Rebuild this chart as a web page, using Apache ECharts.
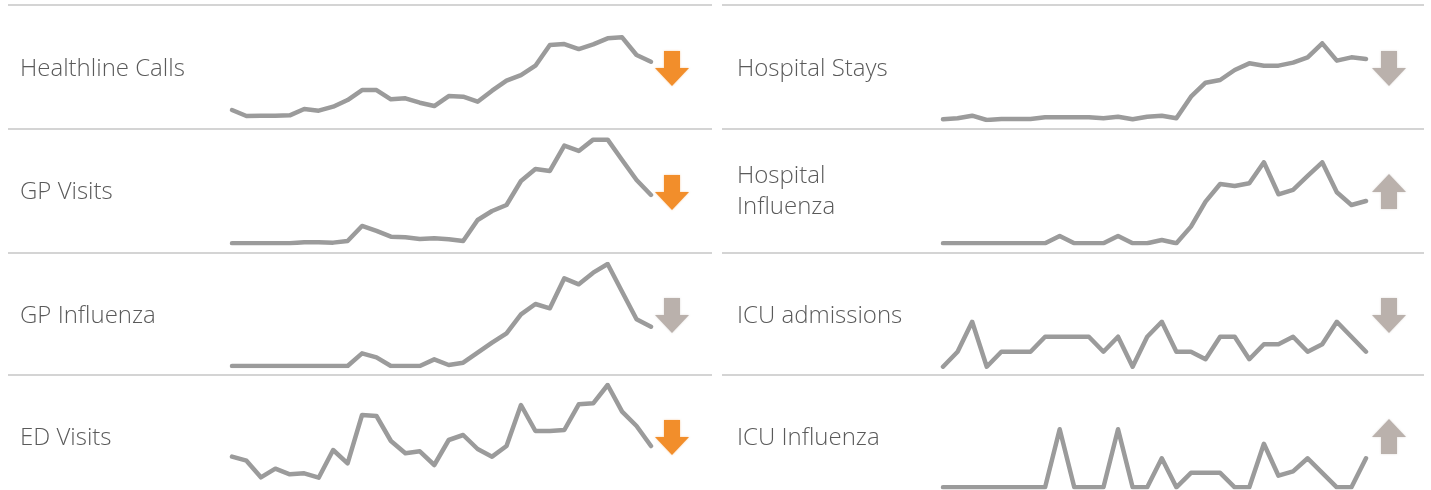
<!DOCTYPE html>
<html><head><meta charset="utf-8">
<script src="https://cdn.jsdelivr.net/npm/echarts@6/dist/echarts.min.js"></script>
<style>html,body{margin:0;padding:0;background:#fff}#c{width:1431px;height:490px}</style>
</head><body><div id="c"></div>
<script>
// ---------- DATA ----------
const weeks = ['W1','W2','W3','W4','W5','W6','W7','W8','W9','W10','W11','W12','W13','W14','W15',
               'W16','W17','W18','W19','W20','W21','W22','W23','W24','W25','W26','W27','W28','W29','W30'];

const healthlineCalls   = [20,2,3,3,4,23,18,30,50,80,80,52,55,42,32,62,60,45,78,108,125,153,215,218,203,217,235,238,185,165];
const gpVisits          = [0,0,0,0,0,3,3,2,7,52,37,20,18,13,15,12,7,70,97,115,187,223,217,293,277,311,311,250,190,145];
const gpInfluenza       = [0,0,0,0,0,0,0,0,0,38,26,0,0,0,20,3,10,40,70,98,155,186,173,263,245,280,306,223,140,118];
const edVisits          = [70,58,8,34,17,20,7,90,50,195,192,117,80,86,45,120,135,93,70,102,225,147,147,150,227,230,285,205,162,102];
const hospitalStays     = [2,5,13,0,3,3,3,8,8,8,8,5,10,2,10,13,5,70,112,120,150,170,163,163,172,188,230,178,188,183];
const hospitalInfluenza = [0,0,0,0,0,0,0,0,22,0,0,0,22,0,0,10,0,50,125,178,172,180,243,147,160,202,243,153,115,127];
const icuAdmissions     = [1,3,7,1,3,3,3,5,5,5,5,3,5,1,5,7,3,3,2,5,5,2,4,4,5,3,4,7,5,3];
const icuInfluenza      = [0,0,0,0,0,0,0,0,4,0,0,0,4,0,0,2,0,1,1,1,0,0,3,0.8,1.1,2,1,0,0,2];

const panelNames  = ['Healthline Calls','GP Visits','GP Influenza','ED Visits',
                     'Hospital Stays','Hospital\nInfluenza','ICU admissions','ICU Influenza'];
const panelSeries = [healthlineCalls,gpVisits,gpInfluenza,edVisits,
                     hospitalStays,hospitalInfluenza,icuAdmissions,icuInfluenza];
const trendDir    = ['down','down','down','down','down','up','down','up'];
const trendAlert  = [true,true,false,true,false,false,false,false];

// ---------- LAYOUT ----------
const colX      = [{sep0:8, sep1:712, label:20, plot:232, plotW:419, arrow:672},
                   {sep0:722, sep1:1424, label:737, plot:943, plotW:423, arrow:1389}];
const sepY      = [5,129,253,375];
const labelY    = [69,192,316,438];
const arrowY    = [68,192,315,437];
// per panel: pixel of axis min, pixels per unit, axis min, axis max
const scaleCfg  = [
  {base:116.7, k:1/3, min:0, max:240},
  {base:243.3, k:1/3, min:0, max:312},
  {base:366.0, k:1/3, min:0, max:306},
  {base:480.0, k:1/3, min:0, max:285},
  {base:120.0, k:1/3, min:0, max:230},
  {base:243.3, k:1/3, min:0, max:243},
  {base:366.7, k:7.5, min:1, max:7},
  {base:487.3, k:14.5, min:0, max:4}
];

const grids=[], xAxes=[], yAxes=[], series=[], graphics=[];
panelSeries.forEach((vals,i)=>{
  const col = colX[i<4?0:1], row = i%4, s = scaleCfg[i];
  const h = (s.max - s.min)*s.k;
  grids.push({left:col.plot, width:col.plotW, top:s.base-h, height:h});
  xAxes.push({type:'category', gridIndex:i, data:weeks, boundaryGap:false, show:false});
  yAxes.push({type:'value', gridIndex:i, min:s.min, max:s.max, show:false});
  series.push({type:'line', xAxisIndex:i, yAxisIndex:i, data:vals, symbol:'none',
    lineStyle:{color:'#9b9b9b', width:4.5, cap:'round', join:'round'}, silent:true, animation:false});
  graphics.push({type:'text', x:col.label, y:labelY[row], style:{text:panelNames[i],
    font:'300 24px "Open Sans"', fill:'#5a5a5a', textVerticalAlign:'middle', lineHeight:31}});
  const up = trendDir[i]==='up', d = up?-1:1;
  const pts = [[-8,-17*d],[8,-17*d],[8,0],[17,0],[0,18*d],[-17,0],[-8,0]];
  graphics.push({type:'polygon', x:col.arrow, y:arrowY[row], shape:{points:pts},
    style:{fill: trendAlert[i] ? '#f28e2b' : '#bab1ac', shadowBlur:2, shadowColor: trendAlert[i]?'rgba(242,142,43,0.5)':'rgba(186,177,172,0.5)'}});
});
sepY.forEach(y=>{
  colX.forEach(c=>graphics.push({type:'line', shape:{x1:c.sep0,y1:y,x2:c.sep1,y2:y},
    style:{stroke:'#d4d4d4', lineWidth:2}}));
});

const chart = echarts.init(document.getElementById('c'), null, {renderer:'canvas'});
chart.setOption({animation:false, grid:grids, xAxis:xAxes, yAxis:yAxes, series:series, graphic:graphics});
</script></body></html>
